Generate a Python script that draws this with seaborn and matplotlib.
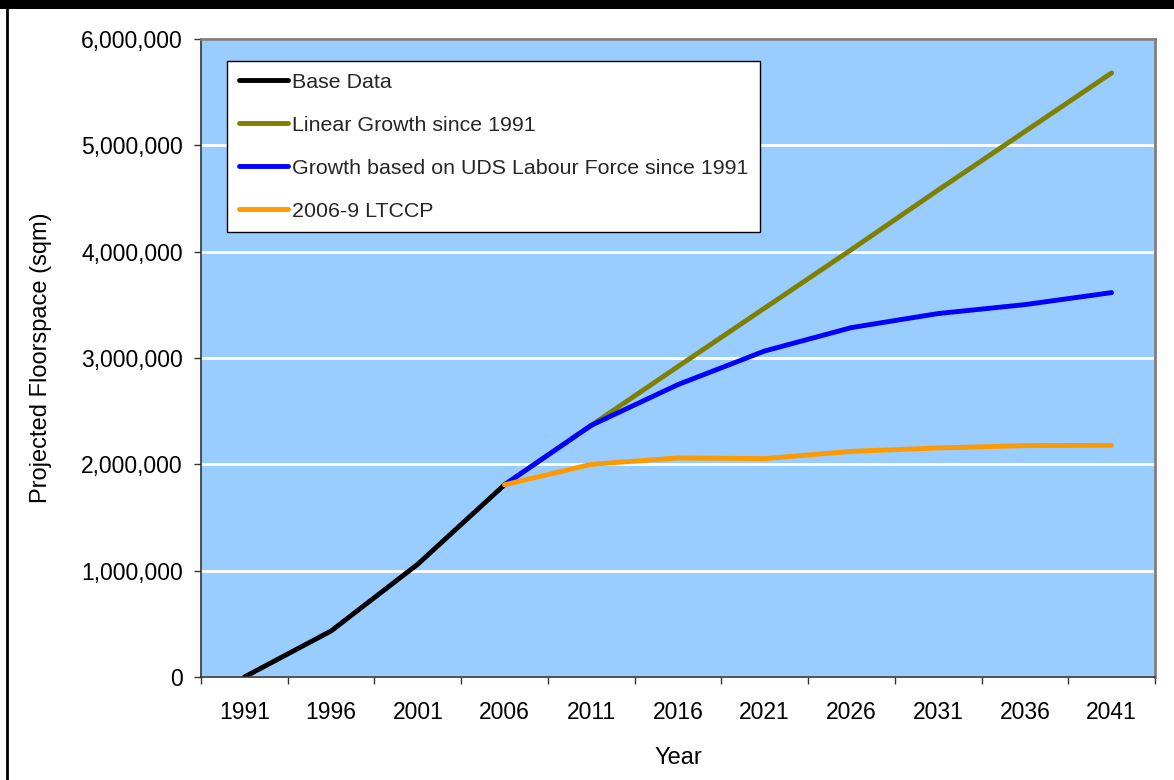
import matplotlib
matplotlib.use("Agg")
import matplotlib.pyplot as plt
from matplotlib.ticker import FuncFormatter, FixedLocator
from matplotlib.lines import Line2D
import pandas as pd
import seaborn as sns

# Projected floorspace (sqm) by year
base_years = [1991, 1996, 2001, 2006]
base_data = [0, 433000, 1061000, 1808000]

proj_years = [2006, 2011, 2016, 2021, 2026, 2031, 2036, 2041]
linear_growth = [1808000, 2367000, 2920000, 3470000, 4020000, 4580000, 5130000, 5681000]
uds_labour = [1808000, 2367000, 2750000, 3066000, 3286000, 3418000, 3502000, 3615000]
ltccp = [1808000, 2000000, 2060000, 2054000, 2122000, 2154000, 2176000, 2179000]

series_names = [
    "Base Data",
    "Linear Growth since 1991",
    "Growth based on UDS Labour Force since 1991",
    "2006-9 LTCCP",
]
series_colors = ["#000000", "#808000", "#0000FF", "#FF9900"]
year_labels = [1991, 1996, 2001, 2006, 2011, 2016, 2021, 2026, 2031, 2036, 2041]

frames = [pd.DataFrame({"Year": base_years, "Floorspace": base_data, "Series": series_names[0]})]
for name, vals in zip(series_names[1:], [linear_growth, uds_labour, ltccp]):
    frames.append(pd.DataFrame({"Year": proj_years, "Floorspace": vals, "Series": name}))
df = pd.concat(frames, ignore_index=True)

sns.set_theme(style="white")
plt.rcParams["font.family"] = ["Liberation Sans", "DejaVu Sans"]

fig = plt.figure(figsize=(11.74, 7.8), dpi=100)
fig.patch.set_facecolor("white")
ax = fig.add_axes([201 / 1174, 1 - 677 / 780, (1155 - 201) / 1174, (677 - 39) / 780])
ax.set_facecolor("#99CCFF")

sns.lineplot(
    data=df, x="Year", y="Floorspace", hue="Series",
    hue_order=series_names, palette=dict(zip(series_names, series_colors)),
    linewidth=3.5, sort=False, legend=False, ax=ax,
)
for ln in ax.lines:
    ln.set_solid_capstyle("round")
    ln.set_solid_joinstyle("round")

# Category-style x axis: ticks between years, labels centred on years
ax.set_xlim(1988.5, 2043.5)
ax.xaxis.set_major_locator(FixedLocator([1988.5 + 5 * i for i in range(12)]))
ax.xaxis.set_minor_locator(FixedLocator(year_labels))
ax.xaxis.set_major_formatter(FuncFormatter(lambda v, p: ""))
ax.xaxis.set_minor_formatter(FuncFormatter(lambda v, p: f"{int(round(v))}"))
ax.tick_params(axis="x", which="major", direction="out", length=5, width=1, color="#333333", bottom=True)
ax.tick_params(axis="x", which="minor", length=0, pad=17, labelsize=16.5, labelcolor="black")

ax.set_ylim(0, 6000000)
ax.set_yticks(range(0, 6000001, 1000000))
ax.yaxis.set_major_formatter(FuncFormatter(lambda v, p: f"{v:,.0f}"))
ax.tick_params(axis="y", direction="out", length=5, width=1, color="#333333", left=True, pad=8,
               labelsize=16.5, labelcolor="black")

ax.grid(axis="y", color="white", linewidth=2)
ax.grid(axis="x", visible=False)
ax.set_axisbelow(True)

for side in ["top", "right"]:
    ax.spines[side].set_color("#808080")
    ax.spines[side].set_linewidth(2)
for side in ["left", "bottom"]:
    ax.spines[side].set_color("#333333")
    ax.spines[side].set_linewidth(1.2)

ax.set_xlabel("Year", fontsize=17, labelpad=17, color="black")
ax.set_ylabel("Projected Floorspace (sqm)", fontsize=17, labelpad=21, color="black")

leg = ax.legend(
    handles=ax.lines[:4], labels=series_names,
    loc="upper left", bbox_to_anchor=(26 / 954, 1 - 22 / 638),
    fontsize=15.4, frameon=True, fancybox=False, framealpha=1,
    edgecolor="black", facecolor="white", handlelength=2.3, handletextpad=0.2,
    labelspacing=1.12, borderpad=0.55, borderaxespad=0,
)
leg.get_frame().set_linewidth(1)

# Outer frame of the figure
fig.add_artist(Line2D([0, 1], [1 - 4 / 780, 1 - 4 / 780], transform=fig.transFigure,
                      color="black", linewidth=6.5))
fig.add_artist(Line2D([6.5 / 1174, 6.5 / 1174], [0, 1], transform=fig.transFigure,
                      color="black", linewidth=2))

fig.savefig("out.png", dpi=100)
